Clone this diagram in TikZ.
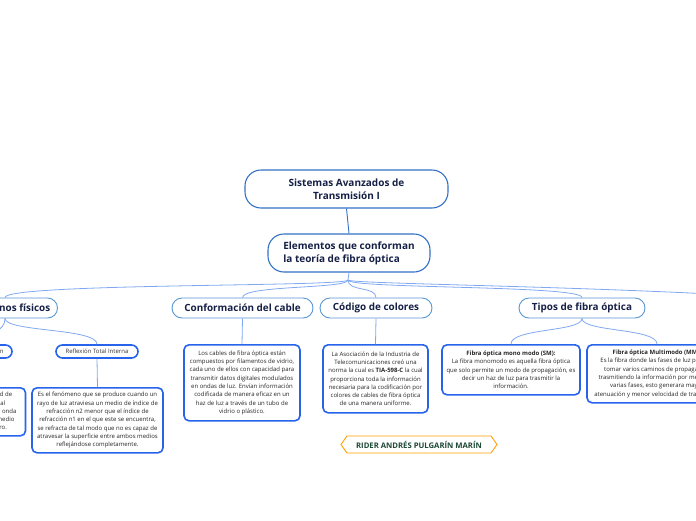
\documentclass[tikz,border=0pt]{standalone}
\usepackage{fontspec}
\setmainfont{Open Sans}
\usetikzlibrary{shapes.symbols}
\definecolor{rootc}{RGB}{52,113,196}
\definecolor{branchc}{RGB}{88,150,212}
\definecolor{leafc}{RGB}{40,100,235}
\definecolor{linec}{RGB}{128,168,240}
\definecolor{navy}{RGB}{22,32,70}
\definecolor{tagc}{RGB}{255,160,0}
\definecolor{tagtext}{RGB}{28,72,52}
\tikzset{
  rootbox/.style={draw=rootc, line width=1.1pt, fill=white, rounded corners=16pt, text=navy,
    font=\fontsize{10}{13}\selectfont\bfseries, align=center, inner sep=0pt},
  branchbox/.style={draw=branchc, line width=0.9pt, fill=white, rounded corners=10pt, text=navy,
    font=\fontsize{9.9}{11}\selectfont\bfseries, align=center, inner sep=0pt, minimum height=20pt},
  pillbox/.style={draw=leafc, line width=1.6pt, fill=white, rounded corners=6.5pt, text=black!80,
    font=\fontsize{6}{7}\selectfont, align=center, inner sep=0pt, minimum height=13pt},
  leafbox/.style={draw=leafc, line width=1.6pt, fill=white, rounded corners=5pt, text=black!85,
    font=\fontsize{6}{8.3}\selectfont, align=center, inner sep=0pt, anchor=north},
  conn/.style={draw=linec, line width=0.8pt},
  tagbox/.style={shape=signal, signal to=west and east, signal pointer angle=110, draw=tagc,
    line width=0.9pt, fill=white, text=tagtext, font=\fontsize{7.7}{9}\selectfont\bfseries,
    inner xsep=4pt, minimum height=17pt, minimum width=156pt}
}
\begin{document}
\begin{tikzpicture}[x=1pt,y=-1pt]
\useasboundingbox (0,0) rectangle (696,520);
\clip (0,0) rectangle (696,520);

% level 0 and 1
\node[rootbox, minimum width=203pt, minimum height=38pt] (root) at (346.5,189) {Sistemas Avanzados de\\Transmisión I};
\node[rootbox, minimum width=162pt, minimum height=38pt, align=left] (elem) at (349,253) {Elementos que conforman\\la teoría de fibra óptica};

% level 2
\node[branchbox, minimum width=105pt] (fis) at (5,308) {Fenómenos físicos};
\node[branchbox, minimum width=141pt] (conf) at (242.5,308) {Conformación del cable};
\node[branchbox, minimum width=112pt] (cod) at (376,308) {Código de colores};
\node[branchbox, minimum width=126pt] (tipos) at (582,308) {Tipos de fibra óptica};
\coordinate (fork) at (348,280);
\coordinate (offright) at (780,298);

% level 3
\node[pillbox, minimum width=46pt] (refr) at (-11,351.5) {Refracción};
\node[pillbox, minimum width=82pt] (refl) at (97,351.5) {Reflexión Total Interna};

\node[leafbox, minimum width=147pt, minimum height=48pt] (refrtxt) at (-48,387) {Es el cambio de dirección y de velocidad de\\propagación que experimenta la luz al\\pasar de un medio a otro, así como toda onda\\cuando incide de forma oblicua de un medio\\con distinta densidad óptica hacia otro.};
\node[leafbox, minimum width=131pt, minimum height=65pt] (refltxt) at (97.5,387) {Es el fenómeno que se produce cuando un\\rayo de luz atraviesa un medio de índice de\\refracción n2 menor que el índice de\\refracción n1 en el que este se encuentra,\\se refracta de tal modo que no es capaz de\\atravesar la superficie entre ambos medios\\reflejándose completamente.};
\node[leafbox, minimum width=116pt, minimum height=76pt] (conftxt) at (242,344) {Los cables de fibra óptica están\\compuestos por filamentos de vidrio,\\cada uno de ellos con capacidad para\\transmitir datos digitales modulados\\en ondas de luz. Envían información\\codificada de manera eficaz en un\\haz de luz a través de un tubo de\\vidrio o plástico.};
\node[leafbox, minimum width=105pt, minimum height=68pt] (codtxt) at (375.5,344) {La Asociación de la Industria de\\Telecomunicaciones creó una\\norma la cual es \textbf{TIA-598-C} la cual\\proporciona toda la información\\necesaria para la codificación por\\colores de cables de fibra óptica\\de una manera uniforme.};
\node[leafbox, minimum width=138pt, minimum height=50pt] (sm) at (511,344) {\textbf{Fibra óptica mono modo (SM):}\\La fibra monomodo es aquella fibra óptica\\que solo permite un modo de propagación, es\\decir un haz de luz para trasmitir la\\información.};
\node[leafbox, minimum width=140pt, minimum height=58pt] (mm) at (657,344) {\textbf{Fibra óptica Multimodo (MM):}\\Es la fibra donde las fases de luz pueden\\tomar varios caminos de propagación\\trasmitiendo la información por medio de\\varias fases, esto generara mayor\\atenuación y menor velocidad de trasmisión.};

% author tag
\node[tagbox] (tag) at (419,444.5) {RIDER ANDRÉS PULGARÍN MARÍN};

% connectors
\draw[draw=rootc, line width=0.9pt] (root.south) -- (elem.north);
\draw[conn] (elem.south) -- (fork);
\draw[conn] (fork) .. controls (348,287) and (5,283) .. (fis.north);
\draw[conn] (fork) .. controls (348,289) and (242.5,285) .. (conf.north);
\draw[conn] (fork) .. controls (348,292) and (376,286) .. (cod.north);
\draw[conn] (fork) .. controls (348,289) and (582,285) .. (tipos.north);
\draw[conn] (fork) .. controls (348,284) and (600,286) .. (offright);

\draw[conn] (fis.south) .. controls (5,332) and (97,328) .. (refl.north);
\draw[conn] (fis.south) .. controls (5,332) and (-11,330) .. (refr.north);
\draw[conn] (refl.south) -- (refltxt.north);
\draw[conn] (refr.south) -- (refrtxt.north);
\draw[conn] (conf.south) -- (conftxt.north);
\draw[conn] (cod.south) -- (codtxt.north);
\draw[conn] (tipos.south) .. controls (582,332) and (511,328) .. (sm.north);
\draw[conn] (tipos.south) .. controls (582,332) and (657,328) .. (mm.north);
\end{tikzpicture}
\end{document}
